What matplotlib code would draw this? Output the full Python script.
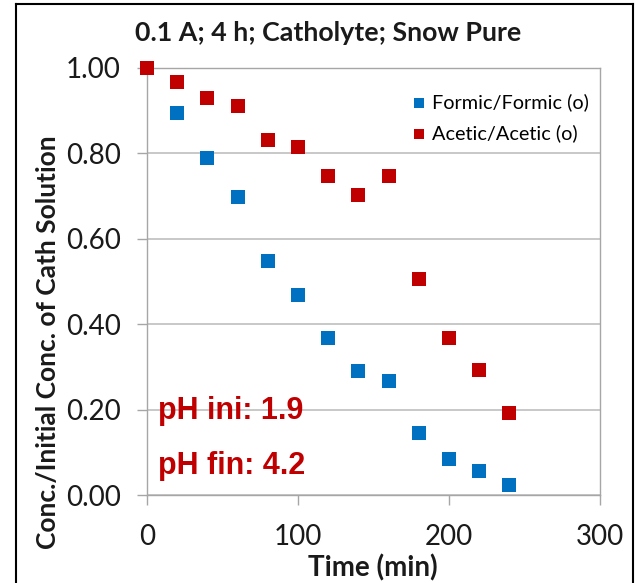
import matplotlib
matplotlib.use("Agg")
import matplotlib.pyplot as plt
from matplotlib.lines import Line2D

time_min = [0, 20, 40, 60, 80, 100, 120, 140, 160, 180, 200, 220, 240]
formic = [1.00, 0.895, 0.789, 0.698, 0.548, 0.468, 0.367, 0.290, 0.267, 0.145, 0.084, 0.056, 0.023]
acetic = [1.00, 0.967, 0.930, 0.911, 0.831, 0.815, 0.747, 0.703, 0.747, 0.506, 0.368, 0.293, 0.192]
y_ticks = [0.0, 0.2, 0.4, 0.6, 0.8, 1.0]
x_ticks = [0, 100, 200, 300]

BLUE = "#0070C0"
RED = "#C00000"
GRID = "#BFBFBF"
FONT = "Lato"
TXT = "#1a1a1a"

fig = plt.figure(figsize=(6.35, 5.83), dpi=100)
ax = fig.add_axes([147/635, 1-495/583, 453/635, 427/583])

ax.scatter(time_min, formic, marker="s", s=95, color=BLUE, label="Formic/Formic (o)", zorder=3, clip_on=False, linewidths=0)
ax.scatter(time_min, acetic, marker="s", s=95, color=RED, label="Acetic/Acetic (o)", zorder=4, clip_on=False, linewidths=0)

ax.set_xlim(0, 300)
ax.set_ylim(0, 1.0)
ax.set_xticks(x_ticks)
ax.set_yticks(y_ticks)
ax.set_xticklabels([str(v) for v in x_ticks], fontsize=20, family=FONT)
ax.set_yticklabels([f"{v:.2f}" for v in y_ticks], fontsize=20, family=FONT)
ax.yaxis.grid(True, color=GRID, linewidth=1.2)
ax.set_axisbelow(True)
for s in ax.spines.values():
    s.set_color("#A6A6A6")
    s.set_linewidth(1.0)
ax.tick_params(axis="both", direction="out", length=7, width=1, color="#A6A6A6", labelcolor=TXT)
ax.tick_params(axis="y", pad=12)
ax.tick_params(axis="x", pad=14)

fig.text(328/635, 1-33/583, "0.1 A; 4 h; Catholyte; Snow Pure", fontsize=19.3, fontweight="bold",
         family=FONT, color=TXT, ha="center", va="center")
fig.text(373/635, 1-568/583, "Time (min)", fontsize=20, fontweight="bold", family=FONT,
         color=TXT, ha="center", va="center")
fig.text(48/635, 1-342/583, "Conc./Initial Conc. of Cath Solution", fontsize=19, fontweight="bold",
         family=FONT, color=TXT, ha="center", va="center", rotation=90)

ax.text(7, 0.197, "pH ini: 1.9", color=RED, fontsize=22, fontweight="bold", family="Liberation Sans", va="center")
ax.text(7, 0.068, "pH fin: 4.2", color=RED, fontsize=22, fontweight="bold", family="Liberation Sans", va="center")

leg = ax.legend(loc="upper left", bbox_to_anchor=(0.557, 0.96), frameon=False,
                prop={"family": FONT, "size": 14.3}, handletextpad=0.05, labelspacing=0.65,
                markerscale=0.75, borderaxespad=0, handlelength=1.2)

# outer chart frame
fig.add_artist(Line2D([16/635, 16/635], [0, 1-4/583], transform=fig.transFigure, color="black", lw=1.5))
fig.add_artist(Line2D([16/635, 633/635], [1-4/583, 1-4/583], transform=fig.transFigure, color="black", lw=1.5))
fig.add_artist(Line2D([633/635, 633/635], [0, 1-4/583], transform=fig.transFigure, color="black", lw=1.5))

fig.savefig("out.png", dpi=100)
